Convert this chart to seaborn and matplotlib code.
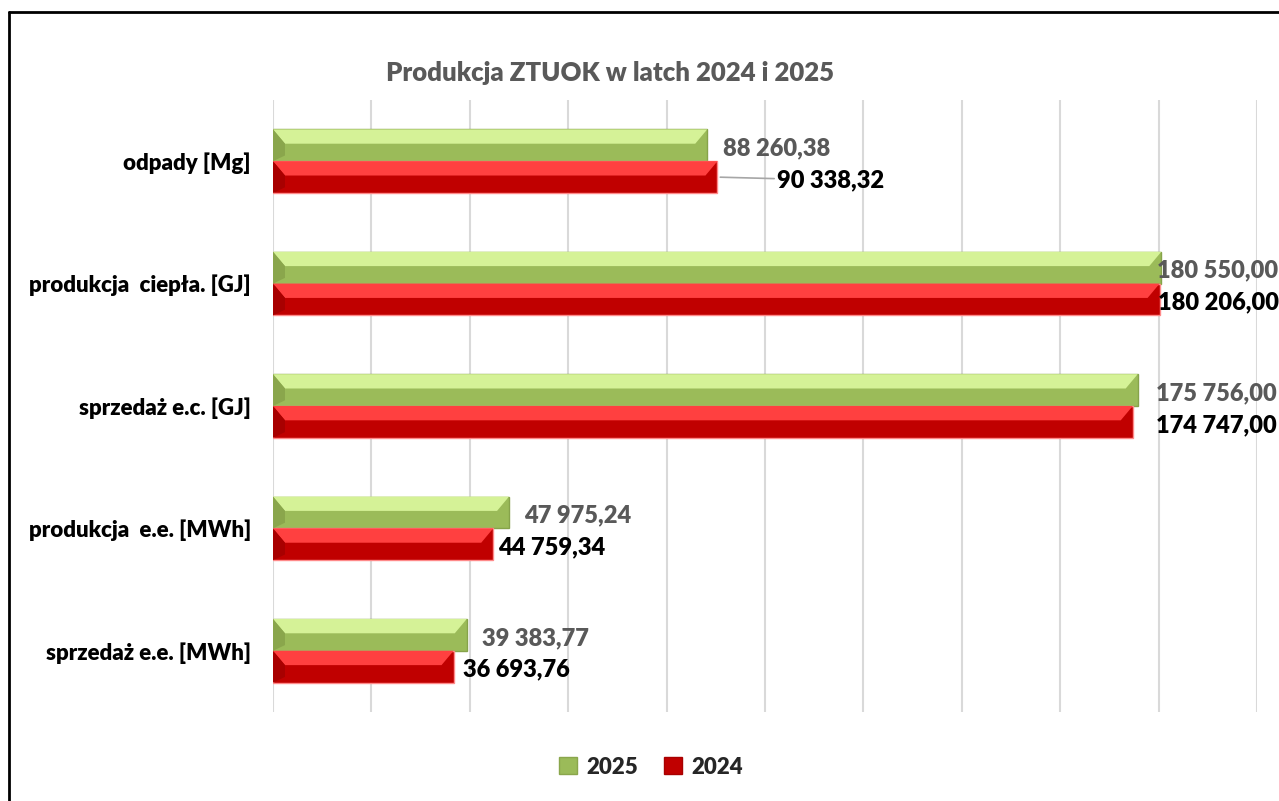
import matplotlib
matplotlib.use("Agg")
import matplotlib.pyplot as plt
from matplotlib.patches import Polygon, Patch
from matplotlib.lines import Line2D
import pandas as pd
import seaborn as sns

categories = ['odpady [Mg]', 'produkcja  ciepła. [GJ]', 'sprzedaż e.c. [GJ]',
              'produkcja  e.e. [MWh]', 'sprzedaż e.e. [MWh]']
values_2025 = [88260.38, 180550.00, 175756.00, 47975.24, 39383.77]
values_2024 = [90338.32, 180206.00, 174747.00, 44759.34, 36693.76]
years = ['2025', '2024']

df = pd.DataFrame({
    'kategoria': categories * 2,
    'rok': ['2025'] * len(categories) + ['2024'] * len(categories),
    'wartosc': values_2025 + values_2024,
})

colors = {'2025': '#9bbb59', '2024': '#c00000'}
light = {'2025': '#d5f297', '2024': '#ff4040'}
dark = {'2025': '#8aa64c', '2024': '#a80000'}
edge = {'2025': '#86a34a', '2024': '#ff8a8a'}

sns.set_style('white')
plt.rcParams['font.family'] = ['Lato', 'DejaVu Sans']

fig = plt.figure(figsize=(12.79, 8.01), dpi=100)
ax = fig.add_axes([273 / 1279, 1 - 712 / 801, 984 / 1279, 612 / 801])

sns.barplot(data=df, x='wartosc', y='kategoria', hue='rok', hue_order=years,
            palette=colors, orient='h', width=0.52, legend=False, ax=ax,
            saturation=1, zorder=2)

ax.set_xlim(0, 200000)
ax.set_xticks(range(0, 200001, 20000))
ax.xaxis.grid(True, color='#d9d9d9', lw=1.5, zorder=0)
ax.yaxis.grid(False)
ax.set_axisbelow(True)
ax.set_xticklabels([])
ax.set_xlabel('')
ax.set_ylabel('')
for s in ax.spines.values():
    s.set_visible(False)
ax.tick_params(axis='both', length=0)
ax.tick_params(axis='y', pad=16)
for lab in ax.get_yticklabels():
    lab.set_fontsize(16)
    lab.set_fontweight('heavy')
    lab.set_color('black')

# bevel look for the bars
px = 200000 / 984
d = 12 * px
for year, cont in zip(years, ax.containers):
    for bar in cont:
        x0, y0 = bar.get_x(), bar.get_y()
        w, h = bar.get_width(), bar.get_height()
        b = 0.45 * h
        bar.set_edgecolor(edge[year])
        bar.set_linewidth(1)
        top = Polygon([(x0, y0), (x0 + w, y0), (x0 + w - d, y0 + b), (x0 + d, y0 + b)],
                      closed=True, fc=light[year], ec='none', zorder=3)
        left = Polygon([(x0, y0), (x0 + d, y0 + b), (x0 + d, y0 + h - b * 0.4), (x0, y0 + h)],
                       closed=True, fc=dark[year], ec='none', zorder=3)
        for p in (top, left):
            ax.add_patch(p)

def fmt(v):
    return f"{v:,.2f}".replace(',', ' ').replace('.', ',')

offs_2025 = [16, -4, 18, 15, 15]
offs_2024 = [60, -2, 23, 5, 9]
for i, bar in enumerate(ax.containers[0]):
    yc = bar.get_y() + bar.get_height() / 2
    ax.annotate(fmt(values_2025[i]), (bar.get_width(), yc), xytext=(offs_2025[i], -3),
                textcoords='offset pixels', ha='left', va='center', fontsize=17,
                fontweight='heavy', color='#595959', zorder=5, annotation_clip=False)
for i, bar in enumerate(ax.containers[1]):
    yc = bar.get_y() + bar.get_height() / 2
    arrow = dict(arrowstyle='-', color='#a6a6a6', lw=1.2, shrinkA=0, shrinkB=2) if offs_2024[i] > 40 else None
    ax.annotate(fmt(values_2024[i]), (bar.get_width(), yc), xytext=(offs_2024[i], -3),
                textcoords='offset pixels', ha='left', va='center', fontsize=17,
                fontweight='heavy', color='black', zorder=5, annotation_clip=False,
                arrowprops=arrow)

fig.text(610 / 1279, 1 - 73 / 801, 'Produkcja ZTUOK w latch 2024 i 2025', ha='center',
         va='center', fontsize=18.5, fontweight='heavy', color='#595959')

handles = [Patch(facecolor=colors[y], edgecolor=dark[y]) for y in years]
fig.legend(handles, years, loc='center', bbox_to_anchor=(651 / 1279, 1 - 767 / 801), ncol=2,
           frameon=False, handlelength=0.8, handleheight=0.8, handletextpad=0.4,
           columnspacing=1.2, prop={'weight': 'heavy', 'size': 16})

# chart border (left and top edges visible)
fig.add_artist(Line2D([9 / 1279, 9 / 1279], [0, 1 - 12 / 801], color='black', lw=2))
fig.add_artist(Line2D([9 / 1279, 1], [1 - 12 / 801, 1 - 12 / 801], color='black', lw=2))

fig.savefig('out.png', dpi=100)
